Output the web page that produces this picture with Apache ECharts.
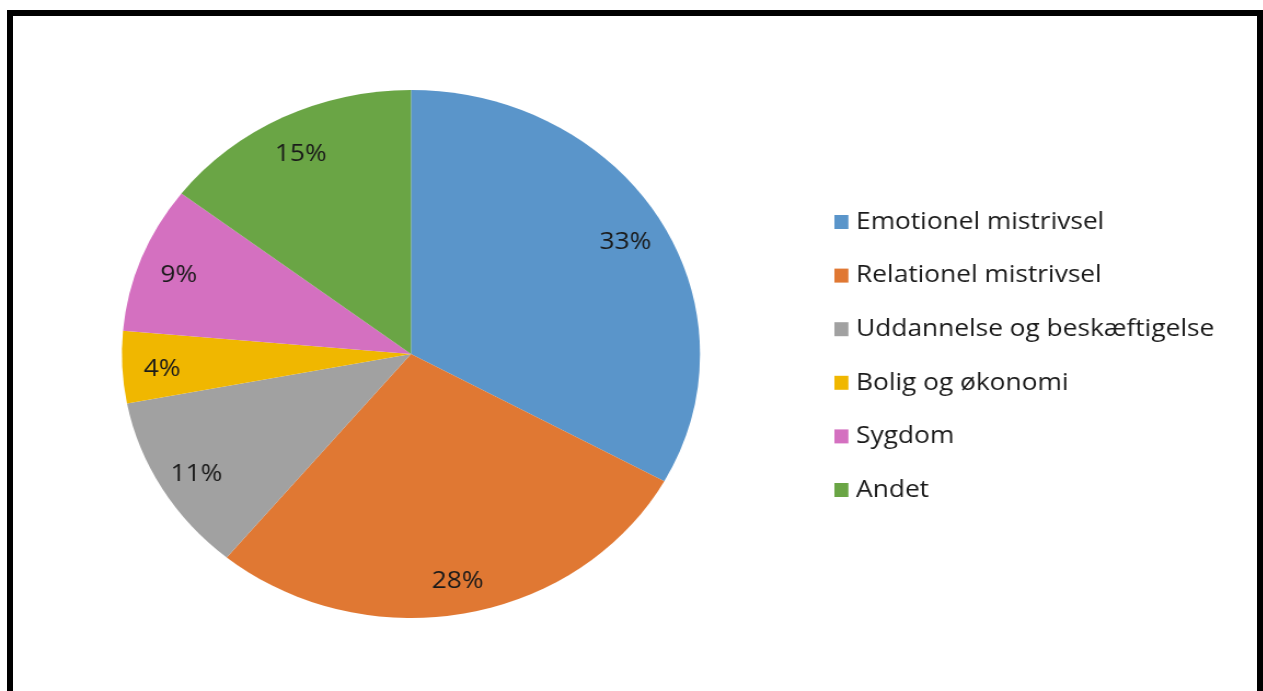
<!DOCTYPE html>
<html>
<head>
<meta charset="utf-8">
<script src="https://cdn.jsdelivr.net/npm/echarts@6/dist/echarts.min.js"></script>
<style>
html,body{margin:0;padding:0;background:#fff;overflow:hidden;width:1263px;height:691px;}
#frame{position:absolute;left:7px;top:10px;width:1256px;height:700px;border-left:6px solid #000;border-top:6px solid #000;border-right:6px solid #000;box-sizing:border-box;}
#chart{position:absolute;left:0;top:0;width:1153px;height:691px;transform:scaleX(1.095);transform-origin:0 0;}
</style>
</head>
<body>
<div id="frame"></div>
<div id="chart"></div>
<script>
const categories = ['Emotionel mistrivsel','Relationel mistrivsel','Uddannelse og beskæftigelse','Bolig og økonomi','Sygdom','Andet'];
const values = [33, 28, 11, 4.4, 9, 14.6];
const colors = ['#5A95CA','#E07833','#A1A1A1','#F0B700','#D470C0','#6AA545'];

const data = categories.map((c, i) => ({name: c, value: values[i]}));
const chart = echarts.init(document.getElementById('chart'), null, {renderer: 'canvas'});
const FONT = 'Open Sans';
chart.setOption({
  animation: false,
  color: colors,
  legend: {
    orient: 'vertical',
    left: 757,
    top: 205,
    itemWidth: 12.8,
    itemHeight: 14,
    itemGap: 29.6,
    icon: 'rect',
    textStyle: {fontFamily: FONT, fontSize: 24, color: '#1a1a1a', lineHeight: 24, padding: [0,0,0,2]},
    data: categories
  },
  series: [
    {
      type: 'pie',
      center: [375.3, 354],
      radius: [0, 264],
      startAngle: 90,
      clockwise: true,
      label: {show: false},
      labelLine: {show: false},
      itemStyle: {borderWidth: 0},
      emphasis: {disabled: true},
      data: data
    },
    {
      type: 'pie',
      center: [375.3, 354],
      radius: [0, 449],
      startAngle: 90,
      clockwise: true,
      silent: true,
      legendHoverLink: false,
      itemStyle: {color: 'rgba(0,0,0,0)', borderWidth: 0},
      label: {
        show: true,
        position: 'inside',
        fontFamily: FONT,
        fontSize: 24,
        color: '#1a1a1a',
        offset: [0, 4],
        formatter: p => Math.round(p.value) + '%'
      },
      labelLine: {show: false},
      emphasis: {disabled: true},
      data: data.map(d => ({name: d.name + ' ', value: d.value}))
    }
  ]
});
</script>
</body>
</html>
